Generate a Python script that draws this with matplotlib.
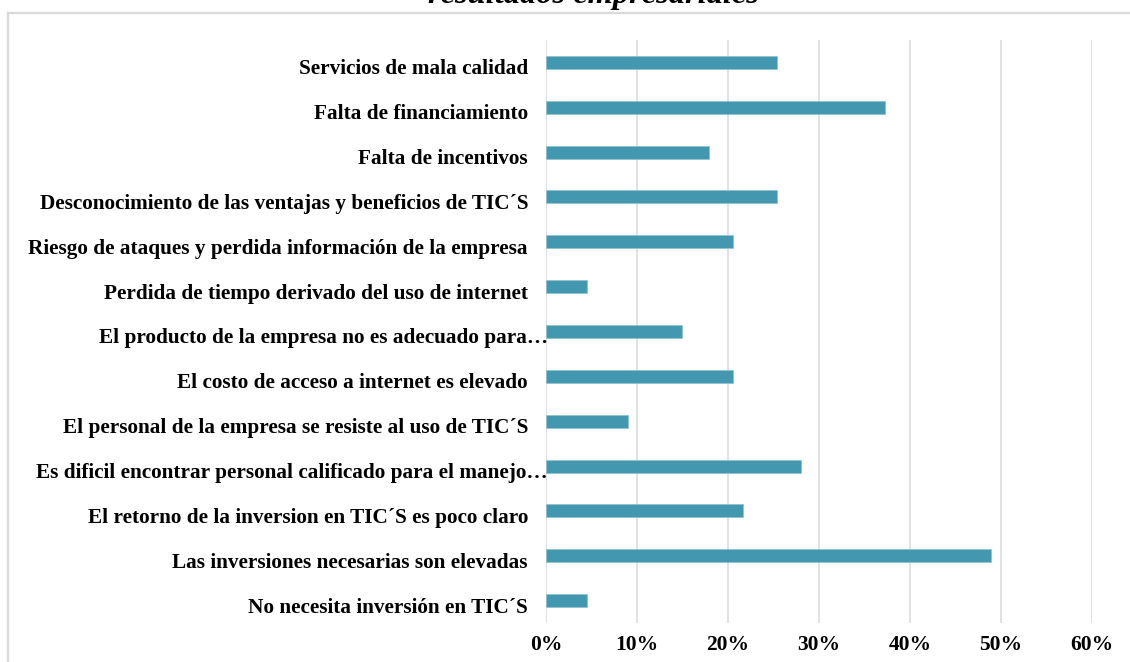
import matplotlib
matplotlib.use("Agg")
import matplotlib.pyplot as plt
from matplotlib.ticker import PercentFormatter
from matplotlib.transforms import ScaledTranslation
from matplotlib.lines import Line2D

categories = [
    "Servicios de mala calidad",
    "Falta de financiamiento",
    "Falta de incentivos",
    "Desconocimiento de las ventajas y beneficios de TIC´S",
    "Riesgo de ataques y perdida información de la empresa",
    "Perdida de tiempo derivado del uso de internet",
    "El producto de la empresa no es adecuado para…",
    "El costo de acceso a internet es elevado",
    "El personal de la empresa se resiste al uso de TIC´S",
    "Es dificil encontrar personal calificado para el manejo…",
    "El retorno de la inversion en TIC´S es poco claro",
    "Las inversiones necesarias son elevadas",
    "No necesita inversión en TIC´S",
]
values = [0.254, 0.373, 0.179, 0.254, 0.205, 0.045, 0.149, 0.205, 0.090, 0.280, 0.217, 0.489, 0.045]
xticks = [0, 0.1, 0.2, 0.3, 0.4, 0.5, 0.6]
title = "resultados empresariales"

plt.rcParams['font.family'] = ['Liberation Serif', 'DejaVu Serif']
W, H = 1130, 662
fig = plt.figure(figsize=(W / 100, H / 100), dpi=100)
ax = fig.add_axes([546 / W, 1 - 623 / H, (1092 - 546) / W, (623 - 40) / H])

grid_c = '#D9D9D9'
ypos = list(range(len(categories)))
ax.barh(ypos, values, height=0.29, color='#4398B0', edgecolor='#8EC3D2', linewidth=0.6, zorder=3)
ax.set_xlim(0, 0.6)
ax.set_ylim(len(categories) - 0.5, -0.5)
ax.set_xticks(xticks)
ax.xaxis.set_major_formatter(PercentFormatter(1.0, decimals=0))
ax.grid(axis='x', color=grid_c, linewidth=1.1, zorder=0)
ax.set_axisbelow(True)
for s in ax.spines.values():
    s.set_visible(False)
ax.tick_params(axis='x', length=0, pad=9, labelsize=15.5)
for lab in ax.get_xticklabels():
    lab.set_fontweight('bold')
ax.set_yticks([])

base = ax.get_yaxis_transform()
for i, lab in enumerate(categories):
    dx = -18 / 100
    if lab.endswith('…'):
        dx = 2 / 100
    tr = base + ScaledTranslation(dx, -12 / 100, fig.dpi_scale_trans)
    ax.text(0, i, lab, transform=tr, ha='right', va='baseline',
            fontsize=15.3, fontweight='bold', color='black')

# outer chart border (partially visible)
fig.add_artist(Line2D([8 / W, 1.0], [1 - 13 / H, 1 - 13 / H], transform=fig.transFigure,
                      color=grid_c, linewidth=1.6))
fig.add_artist(Line2D([8 / W, 8 / W], [0, 1 - 13 / H], transform=fig.transFigure,
                      color=grid_c, linewidth=1.6))

# title cut off at top, as in the reference
fig.text(593 / W, 1 - 3 / H, title, ha='center', va='baseline', fontsize=23.4,
         fontweight='bold', fontstyle='italic')

fig.savefig('out.png', dpi=100)
